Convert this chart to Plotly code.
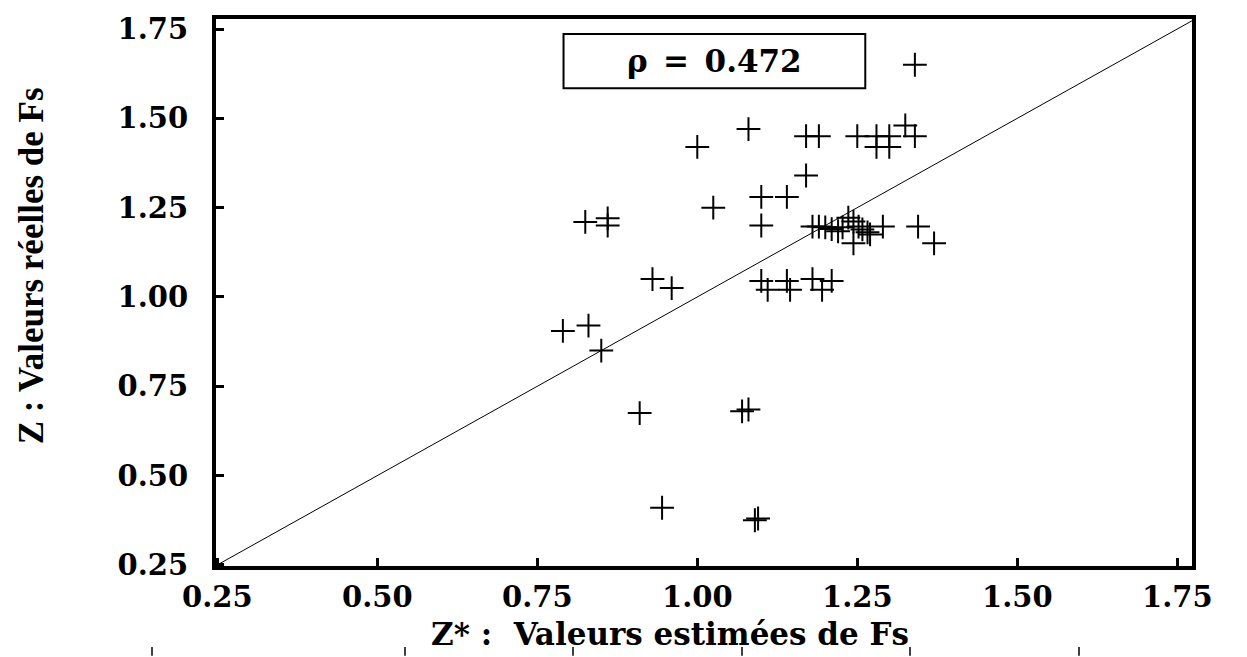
import plotly.graph_objects as go

z_est = [1.34, 1.08, 1.00, 1.17, 1.19, 1.25, 1.28, 1.30, 1.325, 1.34,
         1.28, 1.30, 1.17, 1.10, 1.14, 1.025, 1.10, 0.825, 0.86, 0.86,
         1.18, 1.19, 1.20, 1.21, 1.22, 1.227, 1.236, 1.244, 1.252, 1.258,
         1.266, 1.244, 1.29, 1.345, 1.37, 1.27,
         1.10, 1.11, 1.14, 1.145, 1.18, 1.195, 1.21,
         0.93, 0.96, 0.79, 0.83, 0.85, 0.91, 1.07, 1.08, 0.945, 1.09, 1.095]
z_real = [1.65, 1.47, 1.42, 1.45, 1.45, 1.45, 1.45, 1.45, 1.48, 1.45,
          1.42, 1.42, 1.34, 1.28, 1.28, 1.25, 1.20, 1.21, 1.22, 1.20,
          1.197, 1.197, 1.195, 1.19, 1.184, 1.195, 1.222, 1.211, 1.197, 1.189,
          1.181, 1.15, 1.197, 1.197, 1.15, 1.175,
          1.045, 1.02, 1.045, 1.02, 1.05, 1.02, 1.045,
          1.05, 1.025, 0.905, 0.92, 0.85, 0.675, 0.68, 0.685, 0.41, 0.375, 0.38]

diag = [0.25, 1.78]
tick_vals = [0.25, 0.50, 0.75, 1.00, 1.25, 1.50, 1.75]
tick_text = ["0.25", "0.50", "0.75", "1.00", "1.25", "1.50", "1.75"]
rho_text = "ρ\u2002=\u20020.472"

fig = go.Figure()
fig.add_trace(go.Scatter(x=diag, y=diag, mode="lines",
                         line=dict(color="black", width=1), showlegend=False,
                         hoverinfo="skip"))
fig.add_trace(go.Scatter(x=z_est, y=z_real, mode="markers",
                         marker=dict(symbol="cross-thin", size=17,
                                     line=dict(color="black", width=2)),
                         showlegend=False))

tickfont = dict(family="DejaVu Serif", size=29, color="black", weight="bold")
axis_common = dict(showgrid=False, zeroline=False, showline=True, linecolor="black",
                   linewidth=4, mirror=True, ticks="inside", ticklen=8, tickwidth=3,
                   tickcolor="black", tickvals=tick_vals, ticktext=tick_text,
                   tickfont=tickfont)

fig.update_xaxes(range=[0.248, 1.773], ticklabelstandoff=2, **axis_common)
fig.update_yaxes(range=[0.247, 1.778], ticklabelstandoff=18, **axis_common)

# correlation box
fig.add_shape(type="rect", xref="x", yref="y", x0=0.791, x1=1.2625, y0=1.584, y1=1.736,
              line=dict(color="black", width=2), fillcolor="white", layer="below")
fig.add_annotation(x=1.027, y=1.660, xref="x", yref="y", text=rho_text, showarrow=False,
                   xanchor="center", yanchor="middle",
                   font=dict(family="DejaVu Serif", size=31, color="black", weight="bold"))

# axis titles
fig.add_annotation(xref="paper", yref="paper", x=0.465, y=-0.1245,
                   xanchor="center", yanchor="middle",
                   text="Z* :  Valeurs estimées de Fs", showarrow=False,
                   font=dict(family="DejaVu Serif", size=31, color="black", weight="bold"))
fig.add_annotation(xref="paper", yref="paper", x=-0.189, y=0.549, textangle=-90,
                   xanchor="center", yanchor="middle",
                   text="Z : Valeurs réelles de Fs", showarrow=False,
                   font=dict(family="Liberation Serif", size=35, color="black", weight="bold"))

# small stray marks along the bottom edge of the picture
for px in [152, 405, 573, 742, 910, 1079]:
    xp = (px - 216) / 976
    fig.add_shape(type="line", xref="paper", yref="paper", x0=xp, x1=xp,
                  y0=(566 - 648) / 554, y1=(566 - 657) / 554,
                  line=dict(color="black", width=1.5))

fig.update_layout(width=1247, height=657, margin=dict(l=216, r=55, t=12, b=91),
                  plot_bgcolor="white", paper_bgcolor="white")

fig.write_html("out.html")
